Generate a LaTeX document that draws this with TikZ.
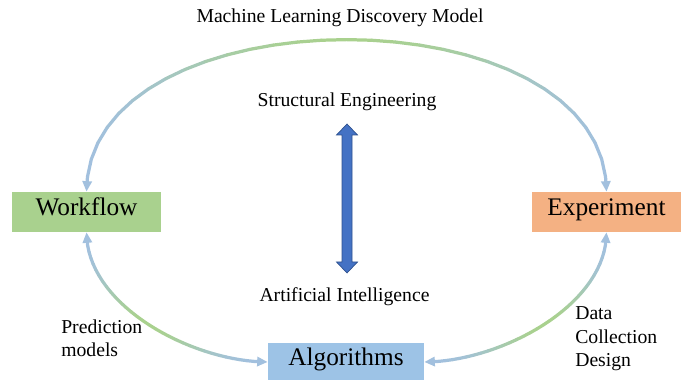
\documentclass[tikz,border=0pt]{standalone}
\usepackage{fontspec}
\setmainfont{Liberation Serif}
\usetikzlibrary{arrows.meta}

\definecolor{wfgreen}{HTML}{A9D18E}
\definecolor{exorange}{HTML}{F4B183}
\definecolor{algblue}{HTML}{9DC3E6}
\definecolor{arcgreen}{HTML}{A9D18E}
\definecolor{arcblue}{HTML}{A2C0DE}
\definecolor{aifill}{HTML}{4472C4}
\definecolor{aiedge}{HTML}{2F528F}

\tikzset{
    stagebox/.style={minimum width=3.725cm, minimum height=1cm, inner sep=0pt,
        text height=0.72em, text depth=0.22em, font=\fontsize{18}{20}\selectfont},
    linkline/.style={line width=2.3pt, line cap=round},
    linktip/.style={-{Triangle[width=6.5pt, length=7.5pt]}},
    smalltext/.style={font=\fontsize{14}{16.6}\selectfont, inner sep=0pt},
}

% blue ends, green middle; #4 = where the tips start
\newcommand{\gradlink}[4]{%
    \path (#1) to[#3] coordinate[pos=#4] (ga) coordinate[pos=1-#4] (gb) (#2);
    \foreach \i in {1,...,30} {
        \pgfmathsetmacro{\ta}{#4+(1-2*#4)*(\i-1)/30}
        \pgfmathsetmacro{\tb}{#4+(1-2*#4)*\i/30}
        \pgfmathsetmacro{\gr}{100*sin(180*(\ta+\tb)/2)^3}
        \path (#1) to[#3] coordinate[pos=\ta] (g1) coordinate[pos=\tb] (g2) (#2);
        \draw[linkline, arcgreen!\gr!arcblue] (g1) -- (g2);
    }
    \draw[linkline, arcblue, linktip] (ga) -- (#1);
    \draw[linkline, arcblue, linktip] (gb) -- (#2);
}

\begin{document}
\begin{tikzpicture}[x=0.025cm, y=0.025cm]
    \useasboundingbox (0,0) rectangle (688,380);

    \node[smalltext] (title) at (340,362) {Machine Learning Discovery Model};
    \node[smalltext] (se) at (347,278) {Structural Engineering};
    \node[smalltext] (ai) at (344.5,83) {Artificial Intelligence};

    \node[stagebox, fill=wfgreen] (wf) at (86.5,168) {Workflow};
    \node[stagebox, fill=exorange] (ex) at (606.5,168) {Experiment};
    \node[stagebox, fill=algblue, minimum width=3.9cm, minimum height=0.95cm]
        (alg) at (346,18) {Algorithms};

    \node[smalltext, anchor=west, align=left] (pred) at (61,42) {Prediction\\models};
    \node[smalltext, anchor=west, align=left] (data) at (575,41) {Data\\Collection\\Design};

    % double arrow between the two fields
    \coordinate (mid) at (347,181.5);
    \draw[fill=aifill, draw=aiedge, line width=0.5pt]
        (mid) ++(0,74.5) -- ++(10.5,-11) -- ++(-5.5,0) -- ++(0,-127)
        -- ++(5.5,0) -- ++(-10.5,-11) -- ++(-10.5,11) -- ++(5.5,0)
        -- ++(0,127) -- ++(-5.5,0) -- cycle;

    \gradlink{wf.north}{ex.north}{out=90, in=90, looseness=1}{0.025}
    \gradlink{wf.south}{alg.west}{out=-90, in=180, looseness=0.85}{0.06}
    \gradlink{ex.south}{alg.east}{out=-90, in=0, looseness=0.85}{0.06}
\end{tikzpicture}
\end{document}
